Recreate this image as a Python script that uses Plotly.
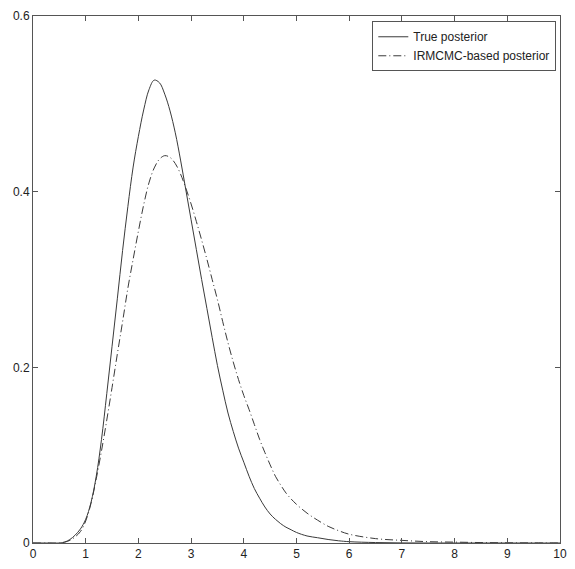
import plotly.graph_objects as go

# x positions (shared grid)
x_vals = [0.0, 0.25, 0.5, 0.6, 0.7, 0.8, 0.9, 1.0, 1.1, 1.2, 1.3, 1.4, 1.5, 1.6, 1.7, 1.8, 1.9,
          2.0, 2.1, 2.2, 2.3, 2.4, 2.5, 2.6, 2.7, 2.8, 2.9, 3.0, 3.1, 3.2, 3.3, 3.4, 3.5,
          3.6, 3.7, 3.8, 3.9, 4.0, 4.1, 4.2, 4.3, 4.4, 4.5, 4.6, 4.7, 4.8, 4.9, 5.0,
          5.2, 5.4, 5.6, 5.8, 6.0, 6.5, 7.0, 7.5, 8.0, 8.5, 9.0, 9.5, 10.0]

true_posterior = [0.0, 0.0, 0.0, 0.001, 0.004, 0.009, 0.016, 0.027, 0.046, 0.076, 0.118, 0.170,
                  0.224, 0.278, 0.333, 0.383, 0.428, 0.463, 0.493, 0.516, 0.527, 0.524, 0.511,
                  0.492, 0.467, 0.436, 0.402, 0.368, 0.334, 0.300, 0.267, 0.234, 0.202, 0.174,
                  0.148, 0.127, 0.108, 0.092, 0.076, 0.062, 0.051, 0.041, 0.033, 0.027, 0.022,
                  0.018, 0.015, 0.012, 0.008, 0.006, 0.004, 0.0025, 0.0015, 0.0005, 0.0001,
                  0.0, 0.0, 0.0, 0.0, 0.0, 0.0]

irmcmc_posterior = [0.0, 0.0, 0.0, 0.001, 0.003, 0.007, 0.013, 0.025, 0.045, 0.073, 0.105, 0.140,
                    0.177, 0.215, 0.252, 0.290, 0.323, 0.355, 0.385, 0.410, 0.427, 0.437, 0.441,
                    0.439, 0.432, 0.420, 0.404, 0.386, 0.366, 0.345, 0.323, 0.300, 0.277, 0.252,
                    0.228, 0.206, 0.186, 0.168, 0.152, 0.135, 0.118, 0.103, 0.089, 0.076, 0.066,
                    0.057, 0.050, 0.044, 0.034, 0.026, 0.019, 0.014, 0.010, 0.005, 0.003, 0.0015,
                    0.001, 0.0005, 0.0002, 0.0001, 0.0]

series_names = ["True posterior", "IRMCMC-based posterior"]
x_ticks = [0, 1, 2, 3, 4, 5, 6, 7, 8, 9, 10]
y_ticks = [0, 0.2, 0.4, 0.6]
y_tick_labels = ["0", "0.2", "0.4", "0.6"]

fig = go.Figure()
fig.add_trace(go.Scatter(x=x_vals, y=true_posterior, mode="lines", name=series_names[0],
                         line=dict(color="#3a3a3a", width=1, shape="spline")))
fig.add_trace(go.Scatter(x=x_vals, y=irmcmc_posterior, mode="lines", name=series_names[1],
                         line=dict(color="#3a3a3a", width=1, shape="spline",
                                   dash="8px,3px,1px,3px")))

axis_common = dict(showline=True, mirror="ticks", linecolor="#555555", linewidth=1,
                   ticks="inside", ticklen=5, tickcolor="#555555", showgrid=False,
                   zeroline=False, tickfont=dict(size=12, color="#222222"))

fig.update_layout(
    width=575, height=569,
    margin=dict(l=33, r=8, t=16, b=21),
    paper_bgcolor="white", plot_bgcolor="white",
    font=dict(family="Liberation Sans, Arial, sans-serif", size=12, color="#222222"),
    showlegend=True,
    legend=dict(x=0.993, y=0.99, xanchor="right", yanchor="top",
                bgcolor="white", bordercolor="#555555", borderwidth=1,
                font=dict(size=12), tracegroupgap=0, itemwidth=30),
    xaxis=dict(range=[0, 10], tickvals=x_ticks, **axis_common),
    yaxis=dict(range=[0, 0.6], tickvals=y_ticks, ticktext=y_tick_labels, **axis_common),
)

fig.write_html("out.html", config={"displayModeBar": False},
               post_script=("document.body.style.margin='0';"
                            "document.body.style.overflow='hidden';"
                            "document.documentElement.style.overflow='hidden';"))
